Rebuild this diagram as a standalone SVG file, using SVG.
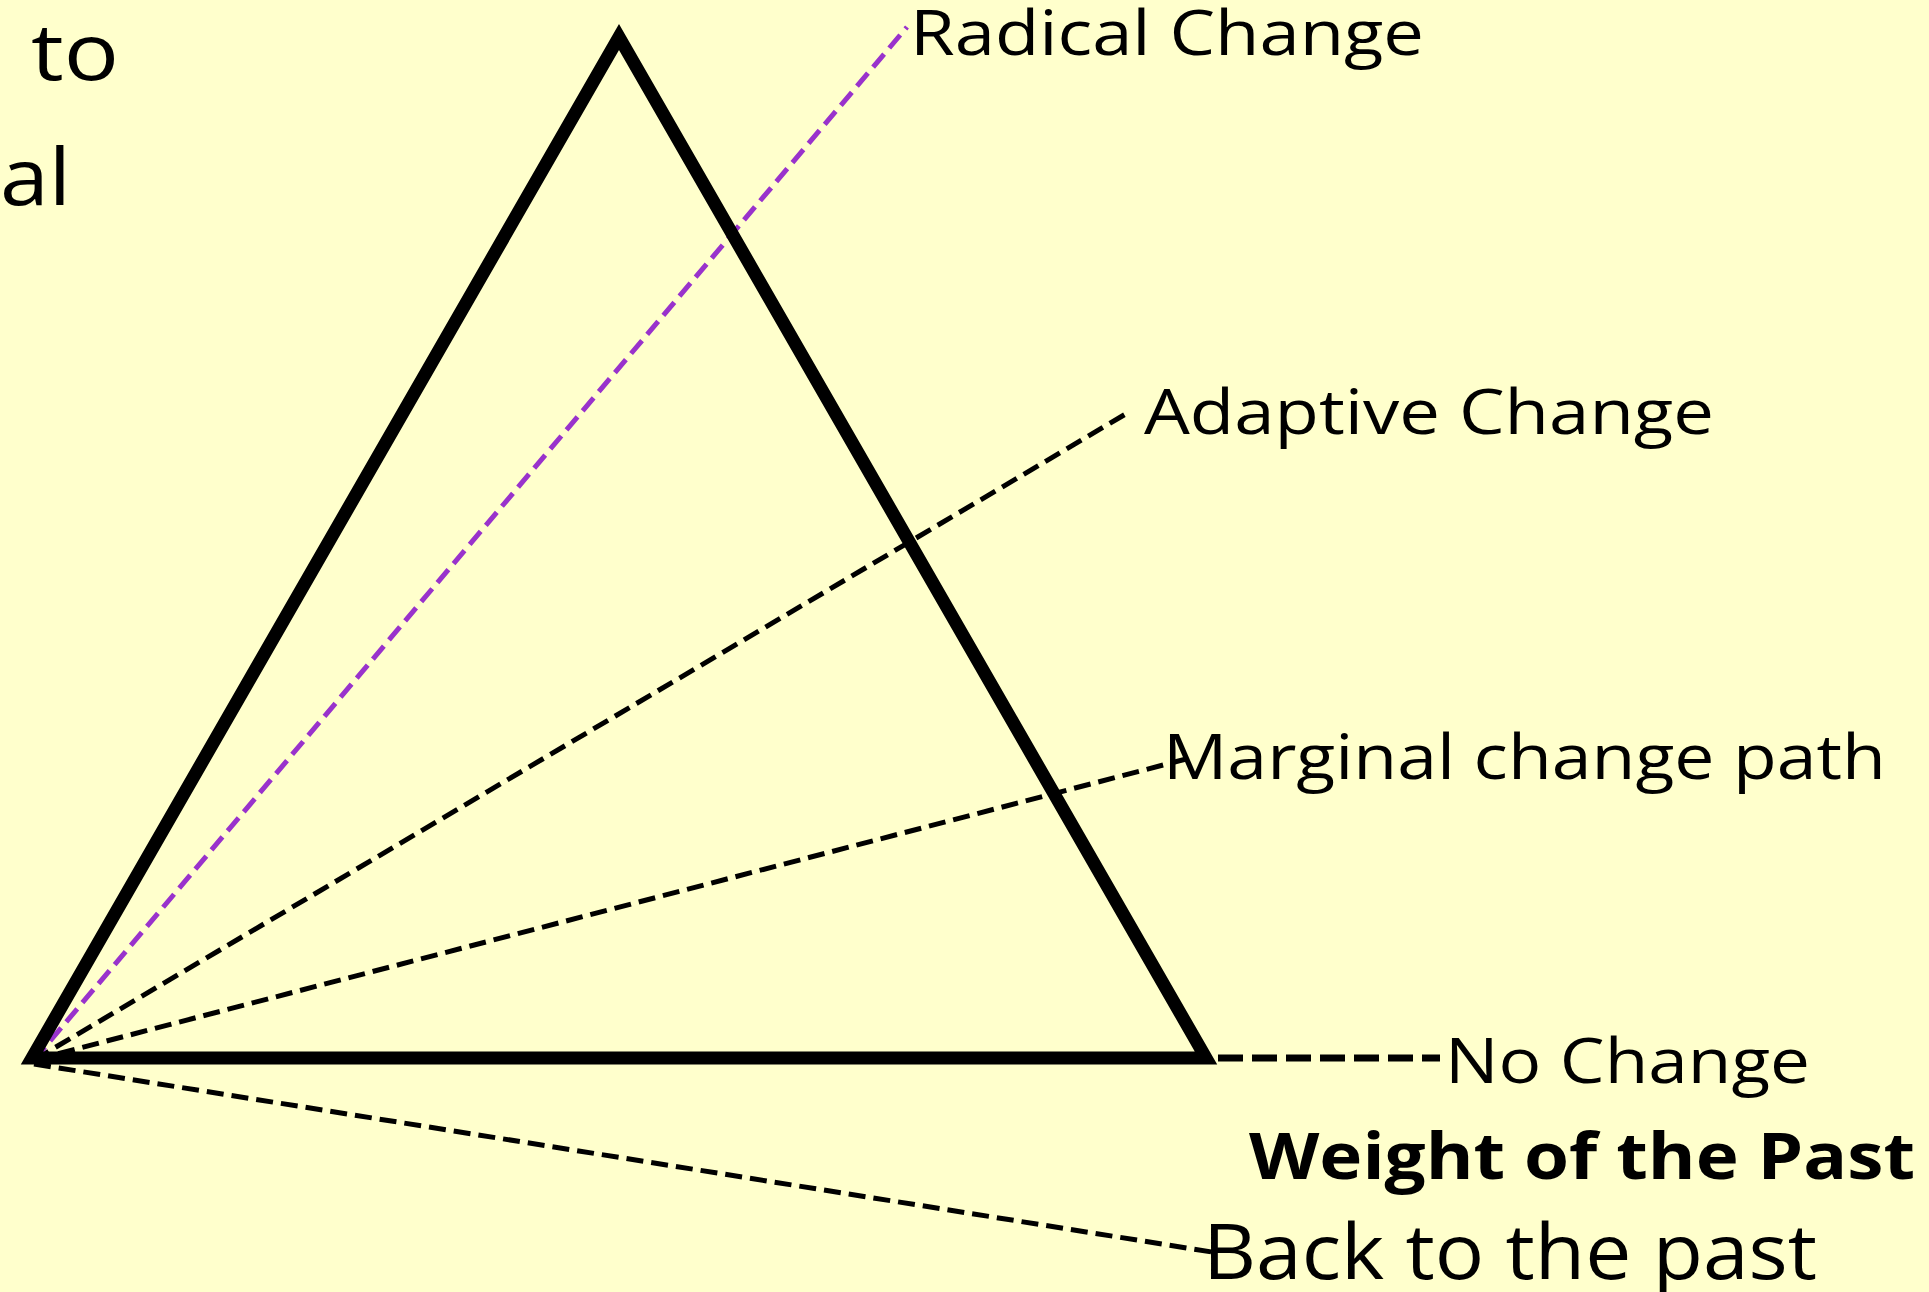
<svg xmlns="http://www.w3.org/2000/svg" width="1929" height="1292" viewBox="0 0 1929 1292">
<style>
.lbl{font-family:"Open Sans","Liberation Sans",sans-serif;fill:#000}
.dash{fill:none;stroke:#000;stroke-width:5;stroke-dasharray:17 8}
</style>
<rect width="1929" height="1292" fill="#FFFFCC"/>
<g id="connectors">
<line class="dash" x1="34" y1="1060" x2="1129" y2="412"/>
<line class="dash" x1="34" y1="1060" x2="1190" y2="758"/>
<line class="dash" x1="34" y1="1064" x2="1212" y2="1252"/>
<line x1="1218" y1="1058" x2="1440" y2="1058" stroke="#000" stroke-width="7" stroke-dasharray="25 9"/>
<line x1="34" y1="1060" x2="907" y2="27" stroke="#9932CC" stroke-width="5" stroke-dasharray="17 8"/>
</g>
<g id="triangle">
<polygon points="619,37 32,1058 1206,1058" fill="none" stroke="#000" stroke-width="13" stroke-miterlimit="10"/>
</g>
<g id="left-text">
<text class="lbl" x="31" y="80" font-size="78" textLength="88" lengthAdjust="spacingAndGlyphs">to</text>
<text class="lbl" x="0" y="205" font-size="78" textLength="71" lengthAdjust="spacingAndGlyphs">al</text>
</g>
<g id="radical"><text class="lbl" x="910" y="55" font-size="63" textLength="514" lengthAdjust="spacingAndGlyphs">Radical Change</text></g>
<g id="adaptive"><text class="lbl" x="1144" y="434" font-size="63" textLength="570" lengthAdjust="spacingAndGlyphs">Adaptive Change</text></g>
<g id="marginal"><text class="lbl" x="1163" y="779" font-size="63" textLength="723" lengthAdjust="spacingAndGlyphs">Marginal change path</text></g>
<g id="nochange"><text class="lbl" x="1445" y="1083" font-size="63" textLength="365" lengthAdjust="spacingAndGlyphs">No Change</text></g>
<g id="weight"><text class="lbl" x="1249" y="1179" font-size="64" font-weight="bold" textLength="666" lengthAdjust="spacingAndGlyphs">Weight of the Past</text></g>
<g id="back"><text class="lbl" x="1203" y="1279" font-size="76" textLength="614" lengthAdjust="spacingAndGlyphs">Back to the past</text></g>
</svg>
